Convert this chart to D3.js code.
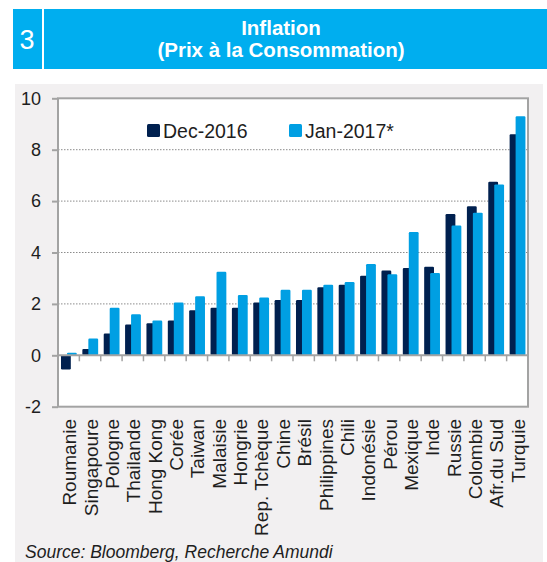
<!DOCTYPE html>
<html>
<head>
<meta charset="utf-8">
<script src="https://cdn.jsdelivr.net/npm/d3@7"></script>
<style>
  html, body { margin: 0; padding: 0; background: #ffffff; }
  svg { display: block; font-family: "Liberation Sans", Arial, sans-serif; }
</style>
</head>
<body>
<svg id="chart" width="547" height="562"></svg>
<script>
// Consumer price inflation, y/y %, by country
const countries = ["Roumanie", "Singapoure", "Pologne", "Thailande", "Hong Kong", "Corée",
  "Taiwan", "Malaisie", "Hongrie", "Rep. Tchèque", "Chine", "Brésil", "Philippines", "Chili",
  "Indonésie", "Pérou", "Mexique", "Inde", "Russie", "Colombie", "Afr.du Sud", "Turquie"];
const dec2016 = [-0.55, 0.25, 0.85, 1.2, 1.25, 1.35, 1.75, 1.85, 1.85, 2.05, 2.15, 2.15,
  2.65, 2.75, 3.1, 3.3, 3.4, 3.45, 5.5, 5.8, 6.75, 8.6];
const jan2017 = [0.1, 0.65, 1.85, 1.6, 1.35, 2.05, 2.3, 3.25, 2.35, 2.25, 2.55, 2.55,
  2.75, 2.85, 3.55, 3.15, 4.8, 3.2, 5.05, 5.55, 6.65, 9.3];
const seriesNames = ["Dec-2016", "Jan-2017*"];
const yTicks = [-2, 0, 2, 4, 6, 8, 10];

const COL_DARK = "#00204f";
const COL_LIGHT = "#009fe3";
const COL_HEAD = "#00aeef";
const COL_AXIS = "#a3a3a3";
const COL_TEXT = "#1e1e1e";

const svg = d3.select("#chart");

// Header band
svg.append("rect").attr("x", 13).attr("y", 9).attr("width", 534).attr("height", 60).attr("fill", COL_HEAD);
svg.append("rect").attr("x", 42).attr("y", 9).attr("width", 2).attr("height", 60).attr("fill", "#ffffff");
svg.append("text").attr("x", 27).attr("y", 49).attr("text-anchor", "middle")
  .attr("font-size", 27).attr("font-weight", 300).attr("fill", "#ffffff").text("3");
svg.append("text").attr("x", 281).attr("y", 35).attr("text-anchor", "middle")
  .attr("font-size", 20.5).attr("font-weight", "bold").attr("fill", "#ffffff").text("Inflation");
svg.append("text").attr("x", 281).attr("y", 57).attr("text-anchor", "middle")
  .attr("font-size", 20.5).attr("font-weight", "bold").attr("fill", "#ffffff").text("(Prix à la Consommation)");

// Chart panel background
svg.append("rect").attr("x", 15).attr("y", 84).attr("width", 528).attr("height", 478).attr("fill", "#f2f0f1");

const plot = { left: 58, right: 528, top: 98.3, bottom: 406.7 };

const x = d3.scaleBand().domain(countries).range([plot.left, plot.right]).padding(0);
const y = d3.scaleLinear().domain([-2, 10]).range([plot.bottom, plot.top]);
const bw = x.bandwidth();

// Plot area
svg.append("rect").attr("x", plot.left).attr("y", plot.top)
  .attr("width", plot.right - plot.left).attr("height", plot.bottom - plot.top)
  .attr("fill", "#ffffff");

// Dotted gridlines
svg.append("g").selectAll("line")
  .data(yTicks.filter(t => t > 0 && t < 10))
  .join("line")
  .attr("x1", plot.left).attr("x2", plot.right)
  .attr("y1", d => y(d)).attr("y2", d => y(d))
  .attr("stroke", "#8c8c8c").attr("stroke-width", 1).attr("stroke-dasharray", "1.5,1.5");

// Y axis (plain hyphen for negatives)
const yAxis = d3.axisLeft(y).tickValues(yTicks).tickSize(6).tickPadding(11).tickFormat(d => String(d));
const gy = svg.append("g").attr("transform", `translate(${plot.left},0)`).call(yAxis);
gy.select(".domain").remove();
gy.selectAll(".tick line").attr("stroke", COL_AXIS).attr("stroke-width", 2);
gy.selectAll(".tick text").attr("font-size", 18).attr("fill", COL_TEXT)
  .attr("font-family", "Liberation Sans, Arial, sans-serif");

// Bars
const barW = bw * 0.46;
const groups = svg.append("g").selectAll("g")
  .data(countries)
  .join("g");
groups.append("rect")
  .attr("x", d => x(d) + bw * 0.14)
  .attr("y", (d, i) => Math.min(y(dec2016[i]), y(0)))
  .attr("width", barW)
  .attr("height", (d, i) => Math.abs(y(dec2016[i]) - y(0)))
  .attr("rx", 1.2)
  .attr("fill", COL_DARK);
groups.append("rect")
  .attr("x", d => x(d) + bw * 0.42)
  .attr("y", (d, i) => Math.min(y(jan2017[i]), y(0)))
  .attr("width", barW)
  .attr("height", (d, i) => Math.abs(y(jan2017[i]) - y(0)))
  .attr("rx", 1.2)
  .attr("fill", COL_LIGHT);

// Zero axis with category ticks
svg.append("line").attr("x1", plot.left).attr("x2", plot.right)
  .attr("y1", y(0)).attr("y2", y(0)).attr("stroke", COL_AXIS).attr("stroke-width", 2);
svg.append("g").selectAll("line")
  .data(countries.slice(1))
  .join("line")
  .attr("x1", d => x(d)).attr("x2", d => x(d))
  .attr("y1", y(0)).attr("y2", y(0) + 6)
  .attr("stroke", COL_AXIS).attr("stroke-width", 1.5);

// Plot frame
svg.append("rect").attr("x", plot.left).attr("y", plot.top)
  .attr("width", plot.right - plot.left).attr("height", plot.bottom - plot.top)
  .attr("fill", "none").attr("stroke", COL_AXIS).attr("stroke-width", 2);

// Category labels, rotated
svg.append("g").selectAll("text")
  .data(countries)
  .join("text")
  .attr("transform", d => `translate(${x(d) + bw / 2 + 7.5},419) rotate(-90)`)
  .attr("text-anchor", "end")
  .attr("font-size", 19)
  .attr("fill", COL_TEXT)
  .text(d => d);

// Legend
const legend = [
  { name: seriesNames[0], color: COL_DARK, x: 147 },
  { name: seriesNames[1], color: COL_LIGHT, x: 289 }
];
const lg = svg.append("g").selectAll("g").data(legend).join("g");
lg.append("rect").attr("x", d => d.x).attr("y", 124).attr("width", 13).attr("height", 13)
  .attr("rx", 1.5).attr("fill", d => d.color);
lg.append("text").attr("x", d => d.x + 16).attr("y", 137.5)
  .attr("font-size", 19.5).attr("fill", COL_TEXT).text(d => d.name);

// Source
svg.append("text").attr("x", 25).attr("y", 557.5)
  .attr("font-size", 17.5).attr("font-style", "italic").attr("fill", COL_TEXT)
  .text("Source: Bloomberg, Recherche Amundi");
</script>
</body>
</html>
